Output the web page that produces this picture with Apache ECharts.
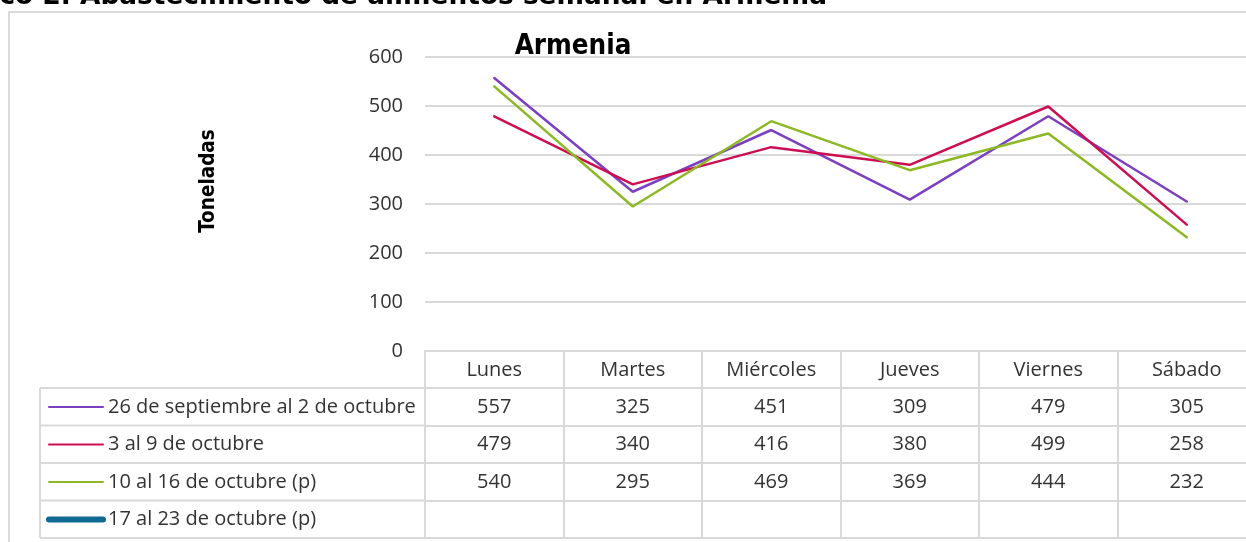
<!DOCTYPE html>
<html>
<head>
<meta charset="utf-8">
<script src="https://cdn.jsdelivr.net/npm/echarts@6/dist/echarts.min.js"></script>
<style>
html,body{margin:0;padding:0;overflow:hidden;background:#fff;}
#c{width:1262px;height:542px;}
</style>
</head>
<body>
<div id="c"></div>
<script>
const days = ['Lunes','Martes','Miércoles','Jueves','Viernes','Sábado'];
const seriesNames = ['26 de septiembre al 2 de octubre','3 al 9 de octubre','10 al 16 de octubre (p)','17 al 23 de octubre (p)'];
const week1 = [557,325,451,309,479,305];
const week2 = [479,340,416,380,499,258];
const week3 = [540,295,469,369,444,232];
const week4 = [];
const yTicks = {min:0, max:600, interval:100};
const colors = ['#7B3FBF','#CC0E52','#8CB825','#0E6A92'];
const lineWidths = [2.5, 2.5, 2.5, 6];

const allWeeks = [week1, week2, week3, week4];
const chart = echarts.init(document.getElementById('c'));

const gridBottomY = 351;
const rowOffsets = [37, 74.5, 112, 149.5, 187];
const grey = '#d9d9d9';
const txt = '#333';
const font = 'Open Sans';
const fs = 20;

const xAxes = [{
  type:'category', data:days, gridIndex:0, position:'bottom', boundaryGap:true,
  axisLine:{show:true, lineStyle:{color:grey, width:2}},
  axisTick:{show:true, interval:0, length:187, lineStyle:{color:grey, width:2}},
  axisLabel:{interval:0, fontFamily:font, fontSize:fs, color:txt, margin:9}
}];
rowOffsets.forEach((off, i) => {
  const vals = allWeeks[i] || [];
  xAxes.push({
    type:'category', data:days, gridIndex:0, position:'bottom', offset:off,
    axisLine:{show:true, lineStyle:{color:grey, width:2}},
    axisTick:{show:false},
    splitLine:{show:false},
    axisLabel:{show: i < 4, interval:0, fontFamily:font, fontSize:fs, color:txt, margin:9,
      formatter:(v, idx) => (vals[idx] !== undefined ? String(vals[idx]) : '')}
  });
});

const leftLines = [];
rowOffsets.forEach(off => {
  leftLines.push({type:'line', shape:{x1:40, y1:gridBottomY+off, x2:426, y2:gridBottomY+off},
    style:{stroke:grey, lineWidth:2}, silent:true});
});
leftLines.push({type:'line', shape:{x1:40, y1:gridBottomY+rowOffsets[0], x2:40, y2:gridBottomY+rowOffsets[4]},
  style:{stroke:grey, lineWidth:2}, silent:true});

const option = {
  animation:false,
  color:colors,
  title:{text:'Armenia', left:568, top:28, textAlign:'center',
    textStyle:{fontFamily:'DejaVu Sans Condensed', fontWeight:'bold', fontSize:27.5, color:'#000'}},
  grid:{left:425, right:6, top:57, bottom:542-gridBottomY, containLabel:false},
  legend:{orient:'vertical', left:46, top:396, padding:0, itemGap:15.5, itemWidth:54, itemHeight:22,
    itemStyle:{opacity:0},
    textStyle:{fontFamily:font, fontSize:fs, color:txt, lineHeight:22},
    data:seriesNames.map((n, i) => ({name:n, lineStyle:{width:lineWidths[i] === 6 ? 6 : 2, color:colors[i], cap:'round'}}))},
  xAxis:xAxes,
  yAxis:{type:'value', min:yTicks.min, max:yTicks.max, interval:yTicks.interval,
    name:'Toneladas', nameLocation:'middle', nameGap:206, nameRotate:90,
    nameTextStyle:{fontFamily:'DejaVu Sans Condensed', fontWeight:'bold', fontSize:20.5, color:'#000', padding:[0,0,0,46]},
    axisLine:{show:false}, axisTick:{show:false},
    axisLabel:{fontFamily:font, fontSize:fs, color:txt, margin:22},
    splitLine:{lineStyle:{color:grey, width:2}}},
  graphic:[
    {type:'rect', shape:{x:9, y:12, width:1400, height:700}, style:{fill:'none', stroke:grey, lineWidth:2}, silent:true, z:-1},
    {type:'text', x:827, y:-2.5, style:{text:'Gráfico 2. Abastecimiento de alimentos semanal en Armenia',
      fontFamily:'DejaVu Sans', fontWeight:'bold', fontSize:26.4, fill:'#000', align:'right', verticalAlign:'middle'}, silent:true}
  ].concat(leftLines),
  series:seriesNames.map((n, i) => ({
    name:n, type:'line', xAxisIndex:0, data:allWeeks[i], symbol:'none',
    lineStyle:{width:lineWidths[i], cap:'round', color:colors[i]},
    itemStyle:{color:colors[i]}
  }))
};
chart.setOption(option);
</script>
</body>
</html>
